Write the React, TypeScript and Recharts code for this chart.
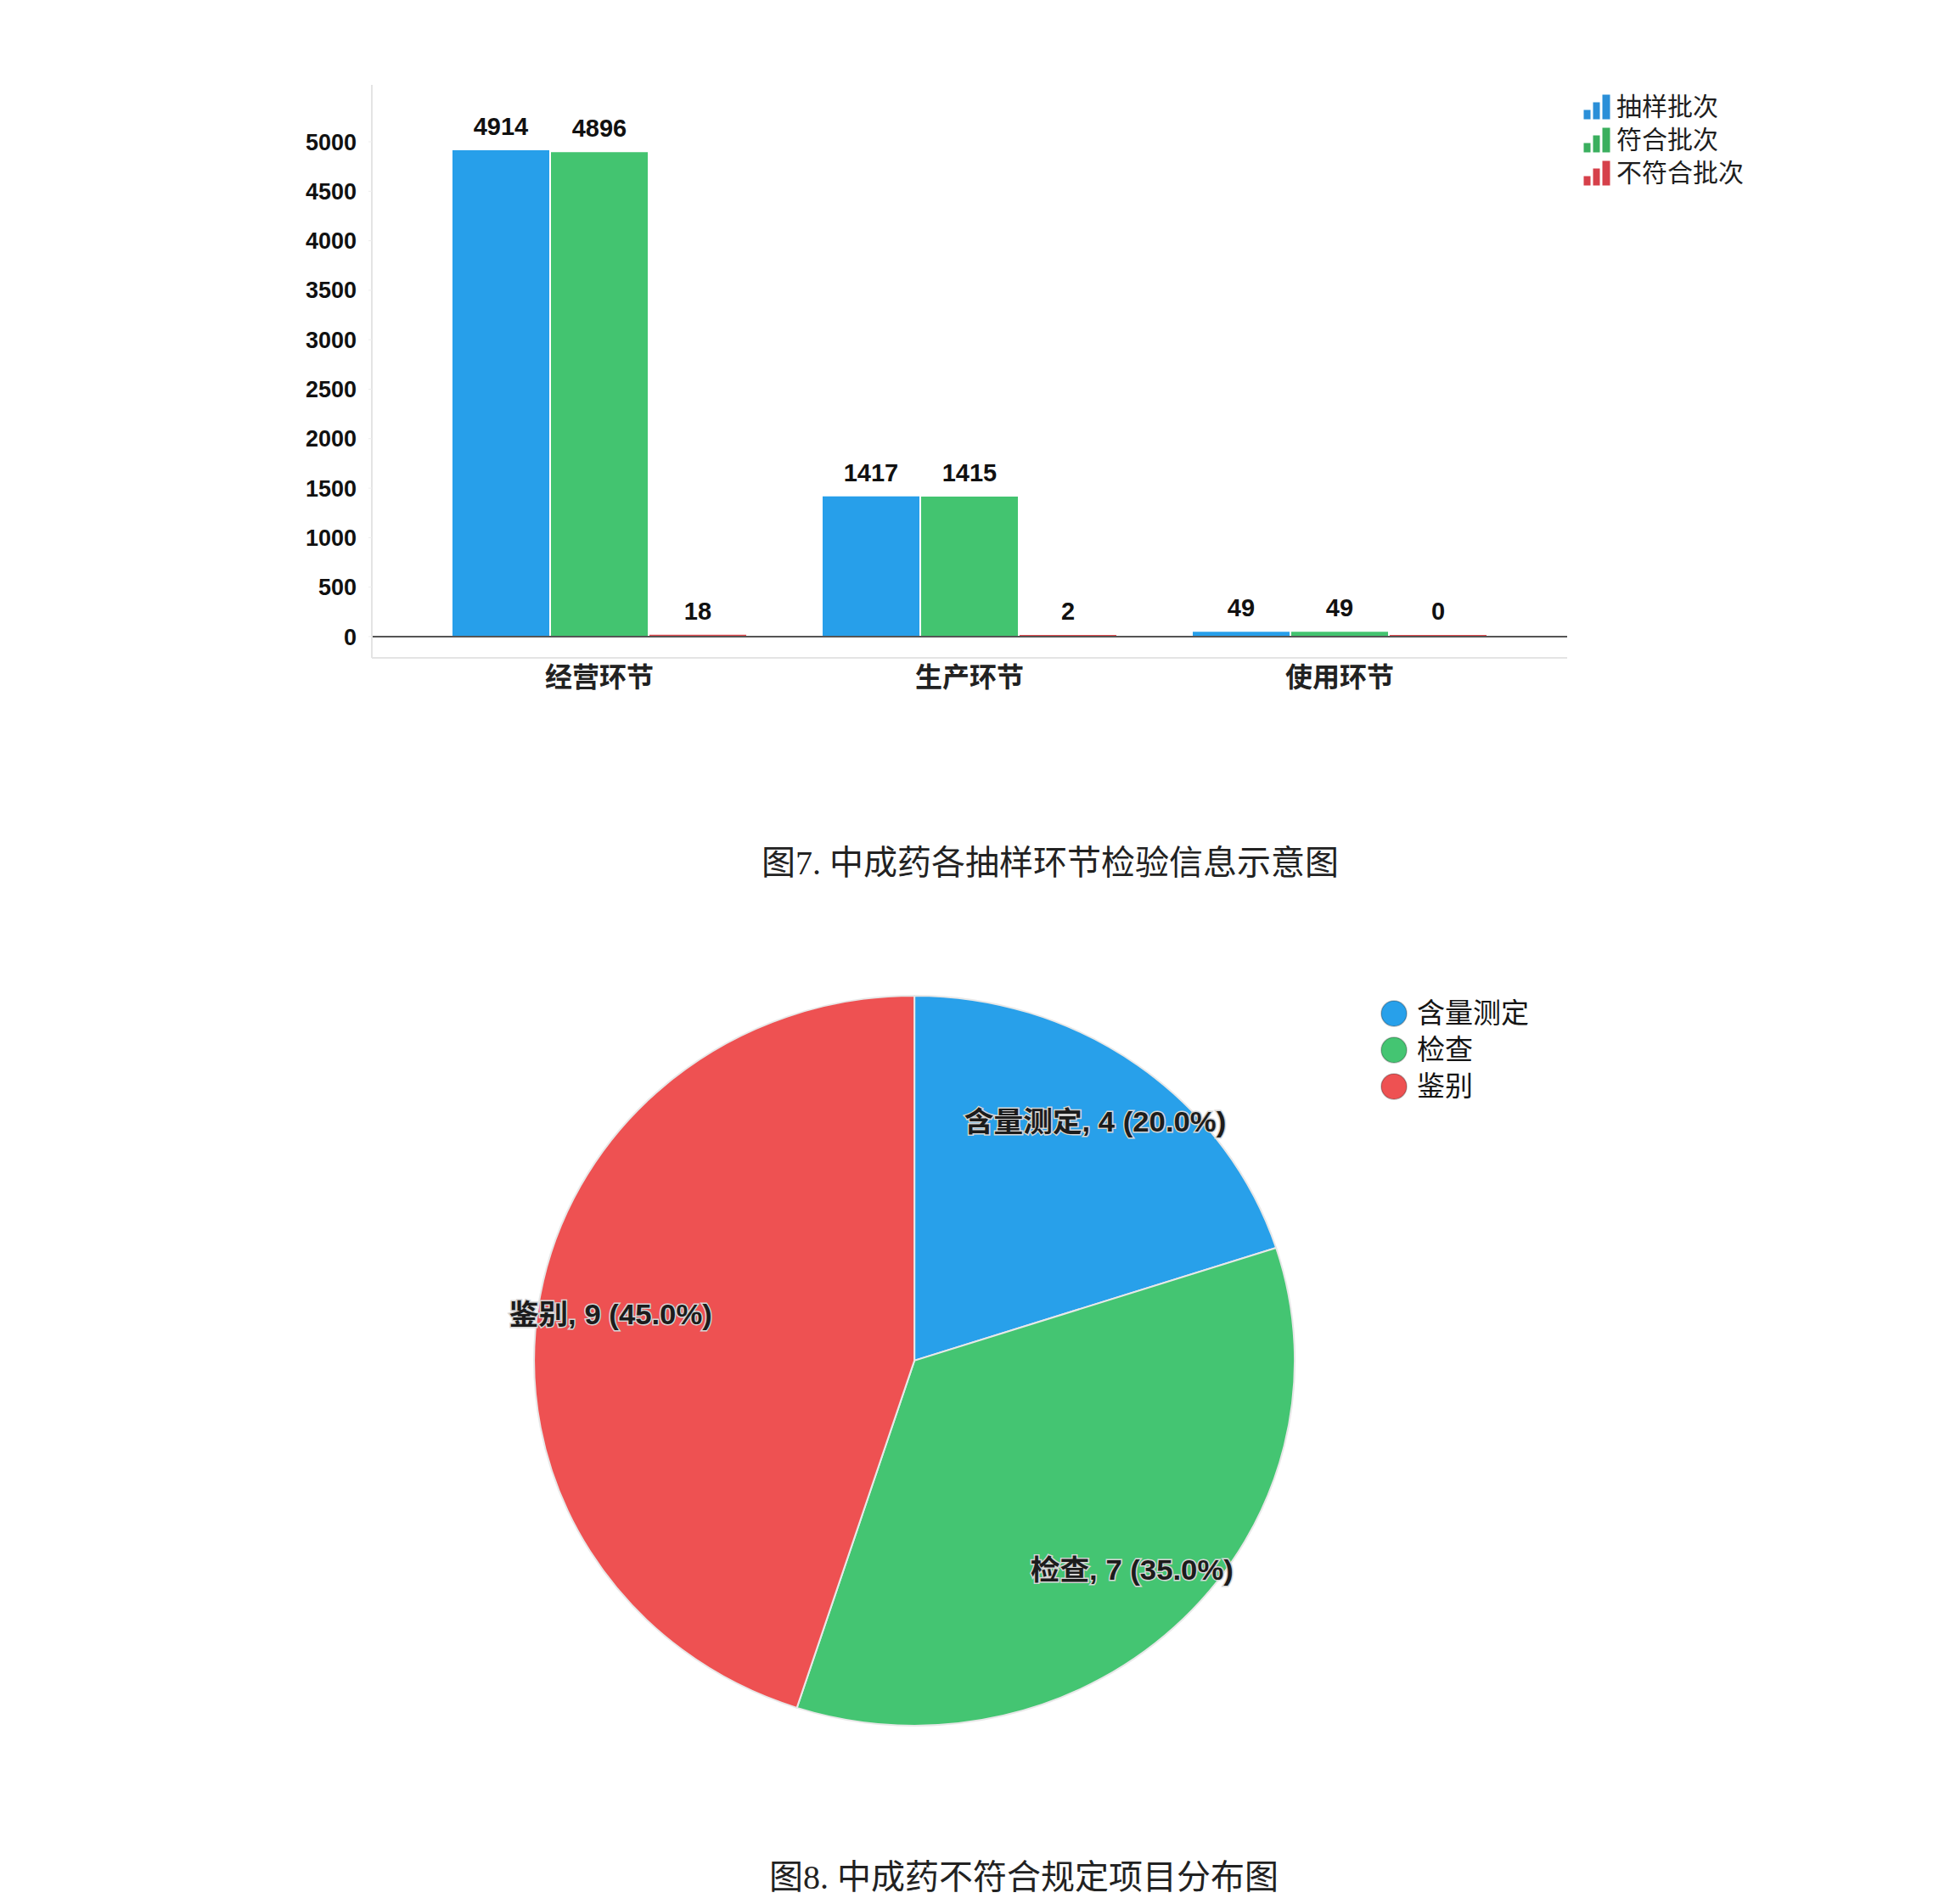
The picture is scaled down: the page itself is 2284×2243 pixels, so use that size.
import React from "react"
import {
  BarChart, Bar, XAxis, YAxis, ReferenceLine, LabelList,
  PieChart, Pie, Cell
} from "recharts"

// figure 7 data
const STAGES = ["经营环节", "生产环节", "使用环节"]
const SAMPLED = [4914, 1417, 49]
const PASSED = [4896, 1415, 49]
const FAILED = [18, 2, 0]
const BAR_NAMES = ["抽样批次", "符合批次", "不符合批次"]
const Y_TICKS = [0, 500, 1000, 1500, 2000, 2500, 3000, 3500, 4000, 4500, 5000]
const EDGE_TICKS = [0, 1, 2, 3]

// figure 8 data
const ITEMS = ["含量测定", "检查", "鉴别"]
const COUNTS = [4, 7, 9]

const BAR_COLORS = ["#279FEA", "#43C470", "#E0474C"]
const BAR_ICON_COLORS = ["#2B8FD8", "#3BAF5E", "#D6404A"]
const PIE_COLORS = ["#28A0EA", "#44C572", "#EE5152"]

const barData = STAGES.map((stage, i) => ({
  stage,
  sampled: SAMPLED[i],
  passed: PASSED[i],
  failed: FAILED[i],
}))
const barKeys = ["sampled", "passed", "failed"]

const pieData = ITEMS.map((name, i) => ({ name, value: COUNTS[i] }))

const SANS = "'Liberation Sans', Arial, 'Noto Sans CJK SC', sans-serif"
const CJK = "'Noto Sans CJK SC', sans-serif"
const SERIF = "'Liberation Serif', 'Noto Sans CJK SC', serif"

const RAD = Math.PI / 180

function BarIcon({ color }: { color: string }) {
  return (
    <svg width={32} height={30} style={{ display: "block" }}>
      <rect x={1} y={19} width={7} height={10} fill={color} stroke={color} />
      <rect x={12} y={10} width={7} height={19} fill={color} stroke={color} />
      <rect x={23} y={1} width={8} height={28} fill={color} stroke={color} />
    </svg>
  )
}

function PieLabel(props: any) {
  const { cx, cy, midAngle, name, value, percent } = props
  const r = 355
  const x = cx + r * Math.cos(-midAngle * RAD)
  const y = cy + r * Math.sin(-midAngle * RAD)
  return (
    <text
      x={x}
      y={y}
      textAnchor="middle"
      dominantBaseline="central"
      fontSize={34}
      fontWeight="bold"
      fontFamily={SANS}
      fill="#1c1c1c"
      stroke="#d6d6d6"
      strokeWidth={3}
      paintOrder="stroke"
    >
      {`${name}, ${value} (${(percent * 100).toFixed(1)}%)`}
    </text>
  )
}

export default function App() {
  return (
    <div style={{ position: "absolute", left: 0, top: 0, width: 2284, height: 2243, background: "#fff" }}>
      <div style={{ position: "absolute", left: 0, top: 0 }}>
        <BarChart
          width={2284}
          height={900}
          data={barData}
          margin={{ top: 100, right: 438, bottom: 65, left: 338 }}
          barSize={114}
          barGap={2}
        >
          <XAxis
            xAxisId="edge"
            type="number"
            domain={[0, 3]}
            ticks={EDGE_TICKS}
            allowDataOverflow
            padding={{ left: 50, right: 50 }}
            height={0}
            axisLine={false}
            tickLine={{ stroke: "#dcdcdc", strokeWidth: 2 }}
            tickSize={6}
            tick={false}
          />
          <XAxis
            xAxisId="cat"
            dataKey="stage"
            height={60}
            padding={{ left: 50, right: 50 }}
            axisLine={{ stroke: "#e4e4e4", strokeWidth: 2 }}
            tickLine={false}
            tick={{ fontSize: 32, fontWeight: 600, fill: "#222", fontFamily: CJK, dy: 3 }}
          />
          <YAxis
            width={100}
            domain={[-215, 5575]}
            ticks={Y_TICKS}
            interval={0}
            allowDataOverflow
            axisLine={{ stroke: "#e4e4e4", strokeWidth: 2 }}
            tickLine={{ stroke: "#eeeeee" }}
            tickSize={4}
            tickMargin={14}
            tick={{ fontSize: 27, fontWeight: "bold", fill: "#111", fontFamily: SANS }}
          />
          {barKeys.map((k, i) => (
            <Bar
              key={k}
              xAxisId="cat"
              dataKey={k}
              name={BAR_NAMES[i]}
              fill={BAR_COLORS[i]}
              minPointSize={2}
              isAnimationActive={false}
            >
              <LabelList
                dataKey={k}
                position="top"
                offset={18}
                fontSize={29}
                fontWeight="bold"
                fill="#111"
                fontFamily={SANS}
              />
            </Bar>
          ))}
          <ReferenceLine xAxisId="cat" y={0} stroke="#555" strokeWidth={2} />
        </BarChart>
      </div>

      {/* bar legend */}
      <div style={{ position: "absolute", left: 1865, top: 106 }}>
        {BAR_NAMES.map((n, i) => (
          <div key={n} style={{ display: "flex", alignItems: "center", height: 39 }}>
            <BarIcon color={BAR_ICON_COLORS[i]} />
            <span style={{ marginLeft: 7, fontSize: 30, fontFamily: SANS, color: "#1e1e1e", lineHeight: "39px" }}>{n}</span>
          </div>
        ))}
      </div>

      <div style={{ position: "absolute", left: 897, top: 995, fontSize: 40, lineHeight: "44px", fontFamily: SERIF, color: "#222", whiteSpace: "nowrap" }}>
        图7. 中成药各抽样环节检验信息示意图
      </div>

      {/* the source pie is slightly wider than tall */}
      <div style={{ position: "absolute", left: 0, top: 1100, transform: "scale(1.0205, 0.9795)", transformOrigin: "1072px 498px" }}>
        <PieChart width={2284} height={1020}>
          <Pie
            data={pieData}
            dataKey="value"
            nameKey="name"
            cx={1072}
            cy={498}
            outerRadius={439}
            startAngle={90}
            endAngle={-270}
            stroke="#e8e8e8"
            strokeWidth={2}
            label={PieLabel}
            labelLine={false}
            isAnimationActive={false}
          >
            {pieData.map((d, i) => (
              <Cell key={d.name} fill={PIE_COLORS[i]} />
            ))}
          </Pie>
        </PieChart>
      </div>

      {/* pie legend */}
      <div style={{ position: "absolute", left: 1625, top: 1172 }}>
        {ITEMS.map((n, i) => (
          <div key={n} style={{ display: "flex", alignItems: "center", height: 43 }}>
            <svg width={34} height={34} style={{ display: "block" }}>
              <circle cx={17} cy={17} r={15} fill={PIE_COLORS[i]} stroke="rgba(0,0,0,0.25)" strokeWidth={1.5} />
            </svg>
            <span style={{ marginLeft: 10, fontSize: 33, fontFamily: SANS, color: "#151515", lineHeight: "43px" }}>{n}</span>
          </div>
        ))}
      </div>

      <div style={{ position: "absolute", left: 906, top: 2190, fontSize: 40, lineHeight: "44px", fontFamily: SERIF, color: "#222", whiteSpace: "nowrap" }}>
        图8. 中成药不符合规定项目分布图
      </div>
    </div>
  )
}
